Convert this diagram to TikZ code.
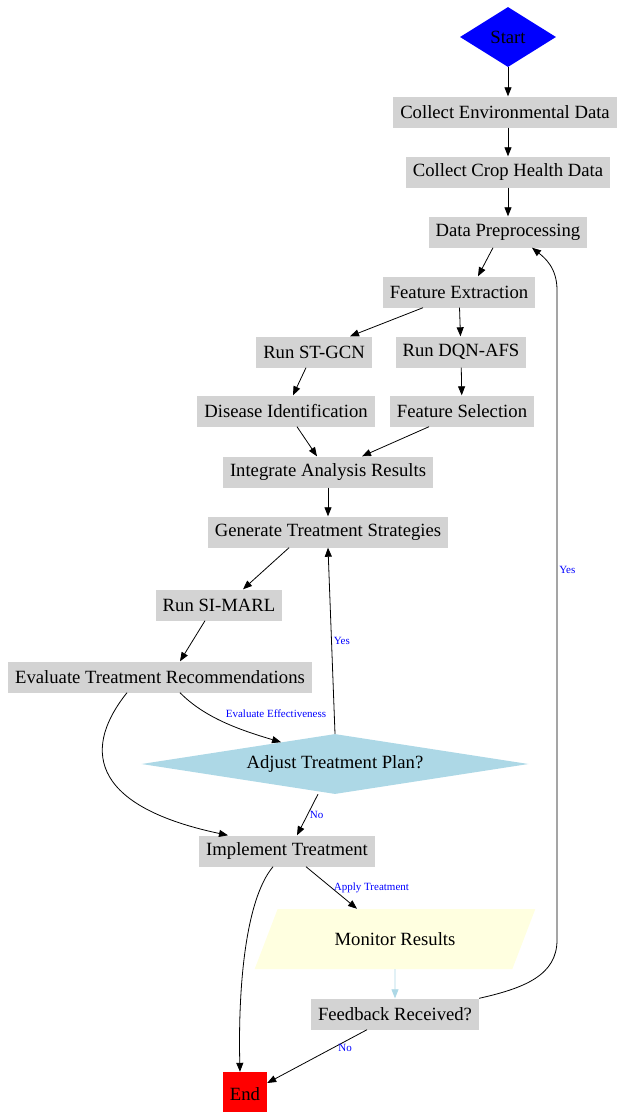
\documentclass[tikz,border=0pt]{standalone}
\usepackage{fontspec}
\setmainfont{Liberation Serif}
\usetikzlibrary{shapes.geometric,arrows.meta}
\definecolor{boxgray}{HTML}{D3D3D3}
\definecolor{adjustblue}{HTML}{ADD8E6}
\definecolor{monitoryellow}{HTML}{FFFFE0}

\begin{document}
\begin{tikzpicture}[x=1pt,y=-1pt,
    box_node/.style={rectangle,fill=boxgray,minimum height=31pt,inner xsep=7pt,inner ysep=0pt,font=\fontsize{18.67}{22}\selectfont},
    dec_node/.style={diamond,inner sep=0pt,font=\fontsize{18.67}{22}\selectfont},
    flow/.style={-{Triangle[length=9pt,width=7pt]},line width=0.8pt},
    edge_label/.style={text=blue,font=\fontsize{11}{12}\selectfont,inner sep=2pt}]
    \useasboundingbox (0,0) rectangle (617,1112);
    \node[dec_node,fill=blue,aspect=1.6,minimum width=96pt,minimum height=60pt] (start) at (508,37) {Start};
    \node[box_node] (env) at (505,112) {Collect Environmental Data};
    \node[box_node] (crop) at (508,172) {Collect Crop Health Data};
    \node[box_node] (prep) at (508,232) {Data Preprocessing};
    \node[box_node] (fe) at (459,292) {Feature Extraction};
    \node[box_node] (stgcn) at (314,352) {Run ST-GCN};
    \node[box_node] (dqn) at (461,352) {Run DQN-AFS};
    \node[box_node] (dis) at (286,411) {Disease Identification};
    \node[box_node] (fs) at (462,411) {Feature Selection};
    \node[box_node] (integ) at (328,472) {Integrate Analysis Results};
    \node[box_node] (gen) at (328,532) {Generate Treatment Strategies};
    \node[box_node] (simarl) at (219,605) {Run SI-MARL};
    \node[box_node] (eval) at (160,677) {Evaluate Treatment Recommendations};
    \node[dec_node,fill=adjustblue,aspect=6.45,minimum width=387pt,minimum height=60pt] (adjust) at (335,764) {Adjust Treatment Plan?};
    \node[box_node] (impl) at (287,851) {Implement Treatment};
    \node[trapezium,trapezium left angle=48,trapezium right angle=132,trapezium stretches=true,fill=monitoryellow,minimum width=281pt,minimum height=60pt,inner sep=0pt,font=\fontsize{18.67}{22}\selectfont] (mon) at (395,939) {Monitor Results};
    \node[box_node] (fb) at (395,1014) {Feedback Received?};
    \node[rectangle,fill=red,minimum width=44pt,minimum height=44pt,inner sep=0pt,font=\fontsize{18.67}{22}\selectfont] (end) at (245,1094) {End};
    \draw[flow] (start) -- (start |- env.north);
    \draw[flow] (crop |- env.south) -- (crop);
    \draw[flow] (crop) -- (prep);
    \draw[flow] ([xshift=-15pt]prep.south) -- ([xshift=19pt]fe.north);
    \draw[flow] ([xshift=-36pt]fe.south) -- ([xshift=36pt]stgcn.north);
    \draw[flow] (fe) -- (dqn);
    \draw[flow] ([xshift=-8pt]stgcn.south) -- ([xshift=7pt]dis.north);
    \draw[flow] (dqn) -- (fs);
    \draw[flow] ([xshift=11pt]dis.south) -- ([xshift=-11pt]integ.north);
    \draw[flow] ([xshift=-33pt]fs.south) -- ([xshift=34pt]integ.north);
    \draw[flow] (integ) -- (gen);
    \draw[flow] ([xshift=-39pt]gen.south) -- ([xshift=24pt]simarl.north);
    \draw[flow] ([xshift=-14pt]simarl.south) -- ([xshift=20pt]eval.north);
    \draw[flow] ([xshift=20pt]eval.south) .. controls (205,718) and (240,730) .. node[edge_label,pos=.45,anchor=south west,xshift=4pt] {Evaluate Effectiveness} (adjust.158);
    \draw[flow] ([xshift=-33pt]eval.south) .. controls (85,745) and (85,805) .. ([xshift=-59pt]impl.north);
    \draw[flow] (adjust.north) -- node[edge_label,right] {Yes} (gen.south);
    \draw[flow] ([xshift=-17pt]adjust.south) -- node[edge_label,right] {No} ([xshift=10pt]impl.north);
    \draw[flow] ([xshift=-14pt]impl.south) .. controls (245,900) and (238,990) .. ([xshift=-5pt]end.north);
    \draw[flow] ([xshift=19pt]impl.south) -- node[edge_label,right] {Apply Treatment} ([xshift=-38pt]mon.north);
    \draw[flow,draw=adjustblue] (mon) -- (fb);
    \draw[flow] ([xshift=-28pt]fb.south) -- node[edge_label,pos=.22,below] {No} ([yshift=11pt]end.east);
    \draw[flow] (fb.north east) .. controls (525,988) and (557,975) .. (557,940) -- node[edge_label,pos=.57,right] {Yes} (557,290) .. controls (557,268) and (545,258) .. ([xshift=24pt]prep.south);
\end{tikzpicture}
\end{document}
